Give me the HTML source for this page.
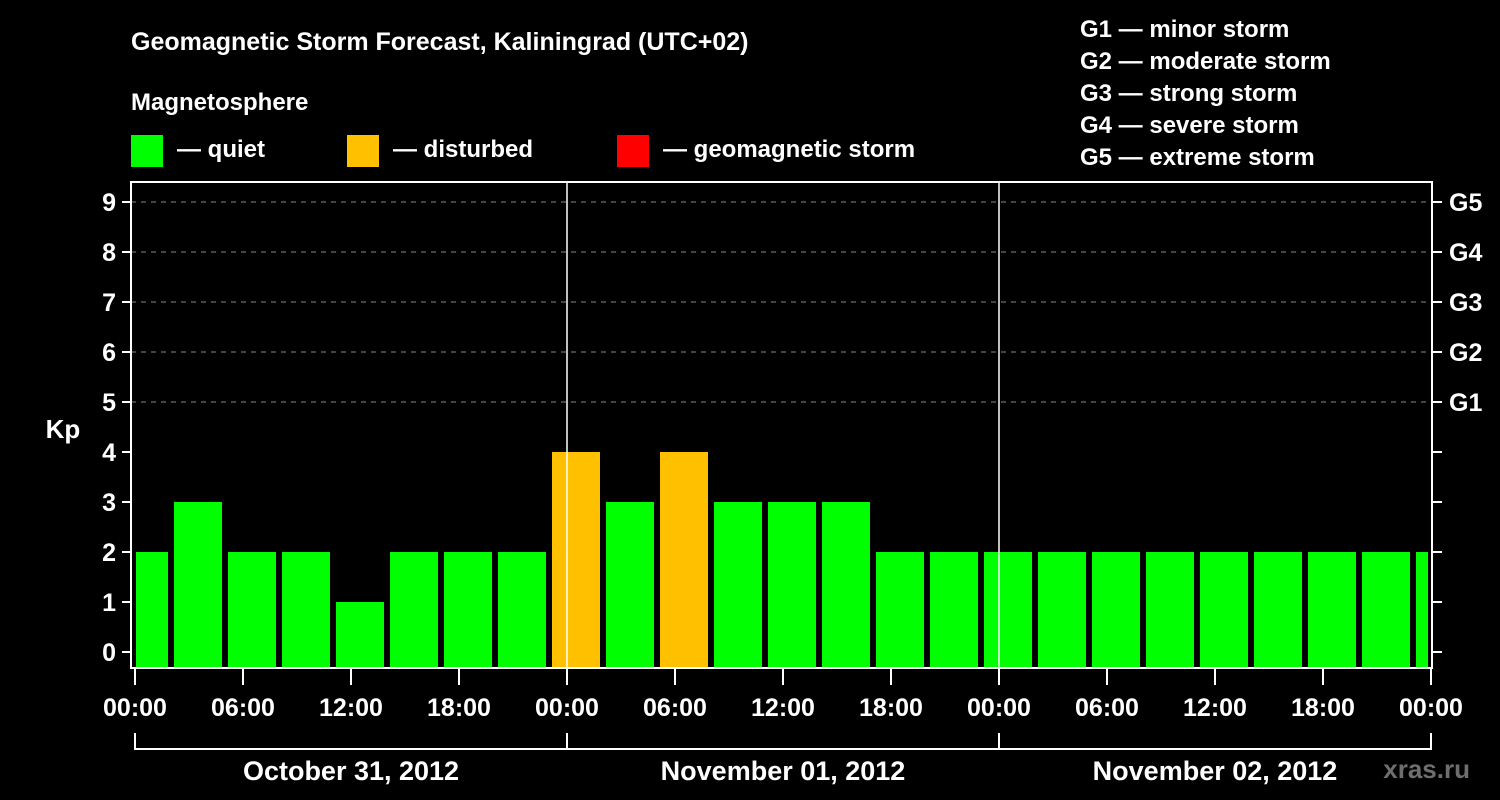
<!DOCTYPE html>
<html><head><meta charset="utf-8"><style>
html,body{margin:0;padding:0;background:#000;}
svg{display:block;font-family:"Liberation Sans",Arial,sans-serif;font-weight:bold;}
</style></head><body>
<svg id="chart" width="1500" height="800" viewBox="0 0 1500 800">
<rect x="0" y="0" width="1500" height="800" fill="#000"/>
<text x="131" y="50" fill="#fff" font-size="25">Geomagnetic Storm Forecast, Kaliningrad (UTC+02)</text>
<text x="131" y="110" fill="#fff" font-size="24">Magnetosphere</text>
<g><rect x="131" y="135" width="32" height="32" fill="#00ff00"/><text x="177" y="157" fill="#fff" font-size="24">— quiet</text></g>
<g><rect x="347" y="135" width="32" height="32" fill="#ffc000"/><text x="393" y="157" fill="#fff" font-size="24">— disturbed</text></g>
<g><rect x="617" y="135" width="32" height="32" fill="#ff0000"/><text x="663" y="157" fill="#fff" font-size="24">— geomagnetic storm</text></g>
<g fill="#fff" font-size="24">
<text x="1080" y="37">G1 — minor storm</text>
<text x="1080" y="69">G2 — moderate storm</text>
<text x="1080" y="101">G3 — strong storm</text>
<text x="1080" y="133">G4 — severe storm</text>
<text x="1080" y="165">G5 — extreme storm</text>
</g>
<text x="63" y="438" fill="#fff" font-size="26" text-anchor="middle">Kp</text>
<text x="1470" y="778" fill="#6e6e6e" font-size="26" text-anchor="end">xras.ru</text>
<g id="grid"></g>
<g id="bars"></g>
<g id="axes"></g>
</svg>
<script>
const kpValues=[2,3,2,2,1,2,2,2,4,3,4,3,3,3,2,2,2,2,2,2,2,2,2,2,2];
const yTicks=[0,1,2,3,4,5,6,7,8,9];
const gLabels=["G1","G2","G3","G4","G5"];
const xTickLabels=["00:00","06:00","12:00","18:00","00:00","06:00","12:00","18:00","00:00","06:00","12:00","18:00","00:00"];
const dayLabels=["October 31, 2012","November 01, 2012","November 02, 2012"];
const NS="http://www.w3.org/2000/svg";
const L=131,R=1432,T=182,B=668,X0=135,PXH=18;
const y=v=>652-50*v;
const x=h=>X0+PXH*h;
function mk(tag,attrs,parent,text){const e=document.createElementNS(NS,tag);for(const k in attrs)e.setAttribute(k,attrs[k]);if(text!==undefined)e.textContent=text;parent.appendChild(e);return e;}
const grid=document.getElementById('grid'),bars=document.getElementById('bars'),axes=document.getElementById('axes');
yTicks.forEach(v=>{if(v>=5){const g=mk('line',{x1:L,x2:R,y1:y(v),y2:y(v),stroke:'#888','stroke-dasharray':'5,5','stroke-width':1},grid);

}});
kpValues.forEach((v,i)=>{const c=0.5+3*i;let x1=x(c)-24,x2=x(c)+24;x1=Math.max(x1,L+5);x2=Math.min(x2,R-4);
const r=mk('rect',{x:x1,y:y(v),width:x2-x1,height:B-y(v),fill:v>=5?'#ff0000':(v>=4?'#ffc000':'#00ff00')},bars);

});
[1,2].forEach(d=>{const l=mk('line',{x1:x(24*d),x2:x(24*d),y1:T,y2:B,stroke:'#fff','stroke-width':1.5},axes);

});
const fr=mk('rect',{x:L,y:T,width:R-L,height:B-T,fill:'none',stroke:'#fff','stroke-width':2},axes);


yTicks.forEach(v=>{mk('line',{x1:L-9,x2:L,y1:y(v),y2:y(v),stroke:'#fff','stroke-width':2},axes);
mk('line',{x1:R,x2:R+10,y1:y(v),y2:y(v),stroke:'#fff','stroke-width':2},axes);
const t=mk('text',{x:116,y:y(v)+9,fill:'#fff','font-size':25,'text-anchor':'end'},axes,String(v));

});
gLabels.forEach((g,i)=>{const t=mk('text',{x:1449,y:y(5+i)+9,fill:'#fff','font-size':25},axes,g);

});
xTickLabels.forEach((s,i)=>{const xx=x(6*i);mk('line',{x1:xx,x2:xx,y1:B,y2:685,stroke:'#fff','stroke-width':2},axes);
const t=mk('text',{x:xx,y:716,fill:'#fff','font-size':25,'text-anchor':'middle'},axes,s);

});
mk('line',{x1:x(0),x2:x(72),y1:749,y2:749,stroke:'#fff','stroke-width':2},axes);
[0,24,48,72].forEach(h=>mk('line',{x1:x(h),x2:x(h),y1:733,y2:750,stroke:'#fff','stroke-width':2},axes));
dayLabels.forEach((s,i)=>{const t=mk('text',{x:x(24*i+12),y:780,fill:'#fff','font-size':27,'text-anchor':'middle'},axes,s);

});
</script>
</body></html>
